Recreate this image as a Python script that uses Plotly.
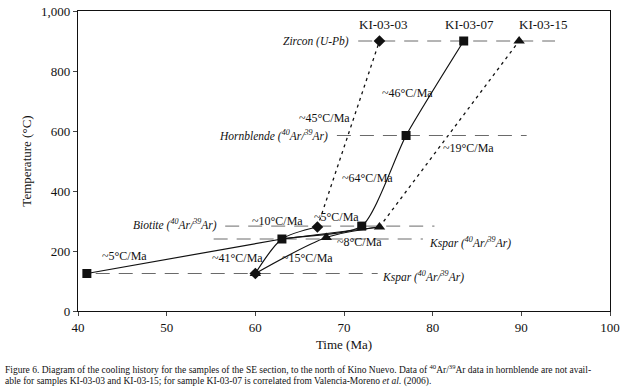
import plotly.graph_objects as go

# ---------------- data ----------------
# KI-03-07 (squares, solid path)
k07_age = [41, 63, 72, 77, 83.5]
k07_temp = [125, 240, 283, 585, 900]

# KI-03-03 (diamonds)
k03_age = [60, 63, 67]
k03_temp = [125, 240, 280]
k03_dot_age = [67, 74]
k03_dot_temp = [280, 900]
k03_mark_age = [60, 67, 74]
k03_mark_temp = [125, 280, 900]

# KI-03-15 (triangles)
k15_age = [60, 68, 74]
k15_temp = [125, 245, 280]
k15_dot_age = [74, 89.75]
k15_dot_temp = [280, 900]
k15_mark_age = [60, 68, 74, 89.75]
k15_mark_temp = [125, 245, 280, 900]

# extra connection between Kspar (63 Ma) and biotite of KI-03-15
link_age = [63, 74]
link_temp = [240, 280]

# reference closure-temperature lines
ref_names = ["<i>Zircon (U-Pb)</i>",
             "<i>Hornblende (<sup>40</sup>Ar/<sup>39</sup>Ar)</i>",
             "<i>Biotite (<sup>40</sup>Ar/<sup>39</sup>Ar)</i>",
             "<i>Kspar (<sup>40</sup>Ar/<sup>39</sup>Ar)</i>",
             "<i>Kspar (<sup>40</sup>Ar/<sup>39</sup>Ar)</i>"]
ref_temp = [900, 585, 283, 240, 125]
ref_start = [71.6, 69.2, 56.6, 55.3, 42.0]
ref_end = [93.8, 90.6, 80.2, 78.9, 73.8]
ref_label_age = [70.8, 68.4, 55.9, 79.4, 74.1]
ref_label_temp = [900, 585, 288, 228, 115]
ref_label_side = ["right", "right", "right", "left", "left"]

# sample names
sample_names = ["KI-03-03", "KI-03-07", "KI-03-15"]
sample_age = [74.4, 84.2, 92.4]
sample_temp = [955, 955, 955]

# cooling-rate labels
rate_text = ["~46°C/Ma", "~45°C/Ma", "~19°C/Ma", "~64°C/Ma", "~10°C/Ma",
             "~5°C/Ma", "~8°C/Ma", "~15°C/Ma", "~41°C/Ma", "~5°C/Ma"]
rate_age = [77.2, 67.8, 84.0, 72.6, 62.5, 69.2, 71.7, 65.9, 58.0, 45.2]
rate_temp = [727, 645, 542, 443, 299, 313, 230, 176, 176, 184]

x_ticks = [40, 50, 60, 70, 80, 90, 100]
y_ticks = [0, 200, 400, 600, 800, 1000]

caption_lines = [
    "Figure 6. Diagram of the cooling history for the samples of the SE section, to the north of Kino Nuevo. "
    "Data of <sup>40</sup>Ar/<sup>39</sup>Ar data in hornblende are not avail-",
    "able for samples KI-03-03 and KI-03-15; for sample KI-03-07 is correlated from Valencia-Moreno "
    "<i>et al.</i> (2006).",
]

# ---------------- figure ----------------
SERIF = "Liberation Serif, Times New Roman, serif"
W, H = 637, 391
ML, MR, MT, MB = 78, 27, 11, 80

fig = go.Figure()

# reference dashed lines
for t, s, e in zip(ref_temp, ref_start, ref_end):
    fig.add_trace(go.Scatter(x=[s, e], y=[t, t], mode="lines",
                             line=dict(color="#6a6a6a", width=1, dash="14px,9px"),
                             hoverinfo="skip", showlegend=False))

# dotted paths
fig.add_trace(go.Scatter(x=k03_dot_age, y=k03_dot_temp, mode="lines",
                         line=dict(color="#111", width=1.3, dash="3px,4px"), showlegend=False))
fig.add_trace(go.Scatter(x=k15_dot_age, y=k15_dot_temp, mode="lines",
                         line=dict(color="#111", width=1.3, dash="3px,4px"), showlegend=False))

# solid paths
fig.add_trace(go.Scatter(x=k07_age, y=k07_temp, mode="lines",
                         line=dict(color="#111", width=1.2, shape="spline", smoothing=0.6),
                         showlegend=False))
fig.add_trace(go.Scatter(x=k03_age, y=k03_temp, mode="lines",
                         line=dict(color="#111", width=1.2, shape="spline", smoothing=0.8),
                         showlegend=False))
fig.add_trace(go.Scatter(x=k15_age, y=k15_temp, mode="lines",
                         line=dict(color="#111", width=1.2, shape="spline", smoothing=0.8),
                         showlegend=False))
fig.add_trace(go.Scatter(x=link_age, y=link_temp, mode="lines",
                         line=dict(color="#111", width=1.2), showlegend=False))

# markers
fig.add_trace(go.Scatter(x=k03_mark_age, y=k03_mark_temp, mode="markers",
                         marker=dict(symbol="diamond", size=9, color="#111"), showlegend=False))
fig.add_trace(go.Scatter(x=k15_mark_age, y=k15_mark_temp, mode="markers",
                         marker=dict(symbol="triangle-up", size=10, color="#111"), showlegend=False))
fig.add_trace(go.Scatter(x=k07_age, y=k07_temp, mode="markers",
                         marker=dict(symbol="square", size=9, color="#111"), showlegend=False))

annotations = []
for name, a, t in zip(sample_names, sample_age, sample_temp):
    annotations.append(dict(x=a, y=t, xref="x", yref="y", text=name, showarrow=False,
                            font=dict(family=SERIF, size=13, color="#111")))
for txt, a, t in zip(rate_text, rate_age, rate_temp):
    annotations.append(dict(x=a, y=t, xref="x", yref="y", text=txt, showarrow=False,
                            font=dict(family=SERIF, size=12, color="#111")))
for txt, a, t, side in zip(ref_names, ref_label_age, ref_label_temp, ref_label_side):
    annotations.append(dict(x=a, y=t, xref="x", yref="y", text=txt, showarrow=False,
                            xanchor=side, font=dict(family=SERIF, size=11.5, color="#111")))
# caption (pixel positions converted to paper units)
cap_px_x = 3
cap_px_y = [369, 381.5]
for line, py in zip(caption_lines, cap_px_y):
    annotations.append(dict(x=(cap_px_x - ML) / (W - ML - MR),
                            y=((H - py) - MB) / (H - MT - MB),
                            xref="paper", yref="paper",
                            text=line, showarrow=False, xanchor="left", yanchor="middle",
                            font=dict(family=SERIF, size=9.5, color="#111")))

fig.update_layout(
    width=W, height=H, autosize=False,
    margin=dict(l=ML, r=MR, t=MT, b=MB, pad=0, autoexpand=False),
    paper_bgcolor="white", plot_bgcolor="white",
    font=dict(family=SERIF, size=13, color="#111"),
    annotations=annotations,
)

fig.update_xaxes(range=[40, 100], tickvals=x_ticks, ticks="outside", ticklen=4,
                 showgrid=False, zeroline=False, showline=True, linecolor="#111",
                 linewidth=1.2, mirror=True, automargin=False,
                 title=dict(text="Time (Ma)", font=dict(family=SERIF, size=13), standoff=6),
                 tickfont=dict(family=SERIF, size=13))
fig.update_yaxes(range=[0, 1000], tickvals=y_ticks, tickformat=",", ticks="outside", ticklen=4,
                 showgrid=False, zeroline=False, showline=True, linecolor="#111",
                 linewidth=1.2, mirror=True, automargin=False,
                 title=dict(text="Temperature (°C)", font=dict(family=SERIF, size=13), standoff=6),
                 tickfont=dict(family=SERIF, size=13))

fig.write_html("out.html", config={"displayModeBar": False},
               post_script="document.body.style.margin='0';document.body.style.padding='0';")
